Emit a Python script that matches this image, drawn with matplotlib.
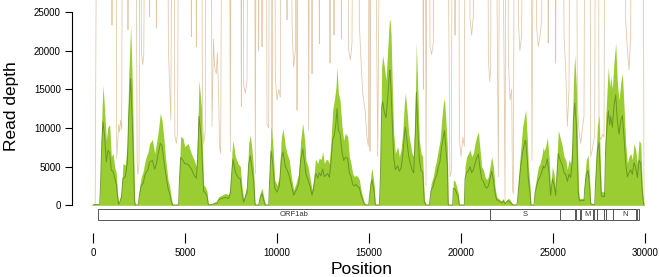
import matplotlib
matplotlib.use("Agg")
import matplotlib.pyplot as plt
from matplotlib.patches import Rectangle

plt.rcParams['font.family'] = ['Liberation Sans', 'DejaVu Sans']

# depth profile of the pooled samples (upper envelope + mean)
pos = [0, 60, 360, 400, 453, 500, 543, 634, 725, 815, 906, 996, 1087, 1178, 1268, 1340, 1395, 1540,
       1631, 1757, 1866, 1939, 2047, 2138, 2210, 2265, 2300, 2460, 2500, 2537, 2627, 2718, 2845, 2990,
       3080, 3225, 3352, 3443, 3533, 3660, 3751, 3860, 3932, 4077, 4167, 4258, 4330, 4650, 4700, 4765,
       4892, 4983, 5164, 5345, 5490, 5617, 5700, 5762, 5889, 5950, 6015, 6105, 6196, 6260, 6286, 6468,
       6650, 6739, 6830, 7011, 7192, 7374, 7464, 7555, 7609, 7736, 7881, 8008, 8098, 8189, 8280, 8370,
       8461, 8551, 8642, 8733, 8800, 8823, 9004, 9095, 9186, 9276, 9367, 9548, 9602, 9675, 9765, 9874,
       10001, 10128, 10237, 10327, 10454, 10545, 10671, 10780, 10907, 11034, 11179, 11288, 11396, 11505,
       11577, 11686, 11813, 11904, 11994, 12085, 12120, 12211, 12301, 12392, 12482, 12573, 12664, 12754,
       12845, 12935, 13026, 13117, 13207, 13262, 13334, 13425, 13533, 13624, 13715, 13841, 13932, 14023,
       14113, 14204, 14294, 14385, 14476, 14566, 14657, 14747, 14838, 14983, 15050, 15110, 15164, 15291,
       15340, 15382, 15563, 15617, 15690, 15744, 15835, 15925, 16016, 16106, 16143, 16197, 16288, 16342,
       16432, 16559, 16650, 16741, 16831, 16922, 16976, 17067, 17157, 17248, 17339, 17429, 17520, 17574,
       17647, 17737, 17828, 17918, 18009, 18100, 18281, 18371, 18497, 18588, 18678, 18769, 18860, 18950,
       19041, 19100, 19186, 19258, 19300, 19313, 19548, 19584, 19675, 19766, 19856, 19911, 20182, 20219,
       20309, 20400, 20490, 20581, 20672, 20762, 20853, 20943, 21034, 21125, 21215, 21306, 21396, 21487,
       21578, 21668, 21759, 21849, 21940, 22031, 22121, 22212, 22302, 22393, 22484, 22574, 22665, 22755,
       22846, 23027, 23063, 23172, 23245, 23353, 23480, 23516, 23607, 23661, 23752, 23800, 23969, 24024,
       24114, 24205, 24296, 24386, 24477, 24512, 24603, 24693, 24784, 24874, 24965, 25056, 25146, 25237,
       25291, 25382, 25509, 25599, 25690, 25780, 25871, 25962, 26052, 26107, 26179, 26270, 26324, 26378,
       26433, 26686, 26723, 26813, 26904, 26976, 27049, 27266, 27321, 27411, 27502, 27556, 27629, 27800,
       27864, 27955, 28009, 28082, 28136, 28227, 28317, 28408, 28498, 28589, 28680, 28770, 28861, 28951,
       29042, 29133, 29223, 29314, 29404, 29495, 29586, 29676, 29767, 29857, 29912, 29948]

depth_max = [0, 150, 150, 3000, 9300, 13000, 15500, 12300, 8400, 10200, 10400, 6300, 6700, 5000, 4100, 1500, 200, 1550,
             5400, 5200, 8000, 16600, 23300, 15800, 7200, 700, 100, 100, 1500, 2400, 3700, 4300, 5900, 6900,
             8000, 8500, 6700, 8000, 9300, 11900, 11000, 8500, 6300, 3300, 2400, 900, 100, 100, 5000, 8900,
             8700, 7600, 8000, 6700, 5900, 5000, 10000, 16200, 12800, 7500, 2600, 2400, 1800, 300, 100, 200,
             400, 500, 1100, 1300, 1550, 1340, 2400, 7000, 8400, 6300, 5400, 5000, 2400, 700, 1700, 2400,
             8000, 9100, 7100, 4500, 500, 100, 100, 1700, 2200, 1100, 100, 100, 5000, 10200, 8400, 3300,
             2600, 3700, 8800, 9900, 7600, 6700, 5800, 3700, 2000, 2800, 4100, 8400, 10600, 8400,
             5800, 5000, 3300, 2000, 3300, 5800, 5900, 5400, 6100, 5900, 6900, 5400, 5900, 5900,
             5400, 8400, 12300, 13600, 15300, 17900, 14500, 13600, 10200, 8400, 9300, 8900, 6300, 5400,
             4100, 3700, 3900, 3700, 3300, 2000, 1100, 300, 100, 100, 2500, 4100, 4800, 2400,
             200, 100, 100, 5000, 17900, 19400, 17900, 16200, 20100, 23900, 24000, 22200, 13600, 9300,
             6700, 7600, 6300, 7200, 9300, 13200, 14500, 12300, 9300, 8000, 6700, 6300, 13600, 21000,
             15300, 8400, 6700, 6300, 700, 100, 100, 2800, 3700, 5000, 5900, 7200, 8400, 11000,
             13200, 13800, 10600, 7600, 1000, 100, 100, 3300, 3100, 2400, 1500, 100, 100, 5000,
             6300, 6700, 7200, 6300, 6700, 8000, 8900, 9500, 7200, 5000, 4600, 3700, 3300, 3700,
             5000, 6300, 5000, 2400, 1100, 900, 700, 500, 900, 300, 700, 900, 700, 300,
             100, 100, 700, 5000, 7200, 10200, 11900, 12300, 8500, 5000, 2400, 100, 100, 2400,
             3700, 5000, 5400, 6300, 7600, 7000, 7600, 8800, 6300, 2000, 5000, 4100, 2000, 7200,
             9700, 8800, 7600, 6300, 5900, 4600, 5900, 5400, 8400, 15800, 19400, 15300, 9300, 2400,
             900, 900, 3300, 5900, 6500, 4100, 300, 100, 5000, 10200, 11700, 7200, 1800, 1700,
             11200, 15600, 17900, 15300, 16600, 15100, 18600, 21000, 15800, 13600, 15800, 17100, 12800, 8000,
             5400, 6300, 6700, 5900, 8000, 7200, 5400, 8400, 8000, 2400, 700, 0]

depth_mean = [0, 100, 100, 2000, 6200, 8900, 10800, 8800, 5600, 7100, 6800, 4500, 4400, 3600, 2700, 1000, 100, 1000,
              3500, 3700, 5500, 11400, 16400, 10600, 4700, 400, 50, 50, 900, 1500, 2600, 2800, 4100, 4600,
              5600, 5800, 4700, 5300, 6500, 8000, 7700, 5700, 4400, 2200, 1500, 500, 50, 50, 3300, 6200,
              5800, 5400, 5300, 4700, 3900, 3500, 6700, 11500, 8600, 5100, 1800, 1600, 1200, 200, 50, 100,
              300, 300, 700, 900, 1000, 900, 1600, 4600, 5900, 4300, 3600, 3400, 1600, 400, 1100, 1600,
              5300, 6400, 4700, 3100, 300, 50, 50, 1100, 1500, 700, 50, 50, 3300, 7000, 5500, 2300,
              1700, 2500, 6000, 6900, 5000, 4600, 3800, 2600, 1300, 1900, 2700, 5800, 7300, 5500,
              4000, 3300, 2300, 1300, 2200, 3900, 4100, 3500, 4200, 3800, 4700, 3700, 3900, 4100,
              3600, 5600, 8500, 9100, 10700, 12500, 9700, 9300, 6900, 5800, 6200, 6100, 4200, 3700,
              2700, 2500, 2700, 2400, 2300, 1300, 700, 200, 50, 50, 1600, 2800, 3300, 1600,
              100, 50, 50, 3400, 12600, 13400, 12000, 11300, 13800, 16900, 17500, 15000, 9300, 6200,
              4600, 5100, 4400, 4800, 6300, 9000, 10100, 8200, 6400, 5400, 4600, 4200, 9400, 14600,
              10200, 5900, 4500, 4300, 400, 50, 50, 1900, 2500, 3400, 3900, 5000, 5700, 7600,
              8900, 9700, 7100, 5200, 600, 50, 50, 2200, 2100, 1600, 1000, 50, 50, 3400,
              4300, 4400, 5000, 4200, 4600, 5400, 6100, 6600, 4800, 3400, 3100, 2500, 2200, 2500,
              3400, 4400, 3300, 1600, 700, 600, 500, 300, 600, 200, 500, 600, 400, 200,
              50, 50, 400, 3300, 5000, 6900, 8300, 8400, 5800, 3400, 1600, 50, 50, 1600,
              2500, 3300, 3700, 4300, 5100, 4800, 5100, 6000, 4300, 1300, 3400, 2700, 1300, 4900,
              6700, 5900, 5200, 4200, 4000, 3100, 4000, 3600, 5700, 11000, 13200, 10600, 6300, 1600,
              600, 600, 2200, 4000, 4500, 2800, 200, 50, 3300, 7000, 8100, 4900, 1200, 1100,
              7600, 10800, 12200, 10400, 11500, 10100, 12900, 14300, 10900, 9200, 10900, 11600, 8800, 5400,
              3700, 4200, 4600, 4000, 5500, 4900, 3600, 5800, 5400, 1600, 400, 0]

# second (high-depth) sample, mostly above the plotted range
tan_pos = [0, 120, 200, 980, 1033, 1090, 1250, 1290, 1400, 1450, 1500, 1560, 1600, 1860, 1902, 1950,
           2330, 2400, 2440, 2500, 2560, 2600, 2627, 2700, 2760, 2820, 3040, 3080, 3120, 3400, 3443, 3490,
           4050, 4100, 4180, 4230, 4300, 4400, 4450, 4530, 4600, 4650, 5300, 5345, 5400, 5580, 5617, 5660,
           5900, 5950, 6015, 6100, 6150, 6420, 6468, 6550, 6610, 6700, 6760, 6830, 6880, 6940, 7000,
           7420, 7464, 7510, 8020, 8062, 8110, 8160, 8189, 8280, 8370, 8420, 8780, 8823, 8870, 8960, 9004,
           9050, 9140, 9186, 9230, 9420, 9457, 9548, 9600, 9690, 9729, 9770, 9880, 9910, 10000, 10100,
           10180, 10230, 10500, 10545, 10590, 10780, 10816, 10900, 10998, 11040, 11060, 11088, 11130,
           11680, 11722, 11770, 11860, 11904, 11950, 12260, 12301, 12340, 12840, 12881, 12920, 13060,
           13100, 13140, 13460, 13500, 13540, 13860, 13895, 13990, 14077, 14120, 14440, 14476, 14560,
           14657, 14800, 14880, 14965, 15010, 15030, 15055, 15100, 15340, 15472, 15600, 17900, 17955,
           18000, 18060, 18100, 18160, 18290, 18316, 18400, 18497, 18540, 19270, 19400, 19480, 19520,
           19640, 19675, 19720, 19880, 19911, 20000, 20100, 20182, 20220, 20460, 20490, 20580, 20672,
           20720, 21460, 21487, 21560, 21614, 21660, 21900, 22031, 22110, 22260, 22393, 22440, 22540,
           22574, 22665, 22755, 22800, 22846, 22900, 23090, 23118, 23200, 23300, 23340, 23800, 23860,
           23940, 24080, 24114, 24200, 24300, 24386, 24430, 24700, 24740, 24780, 25100, 25146, 25190,
           25560, 25599, 25700, 25780, 25871, 25920, 26280, 26324, 26420, 26505, 26600, 26686, 26730,
           27010, 27049, 27120, 27266, 27310, 27470, 27502, 27600, 27700, 27774, 27820, 28920, 28951,
           29050, 29133, 29223, 29260, 29900, 29948]

tan_val = [0, 0, 45000, 45000, 23300, 45000, 45000, 6000, 10500, 9500, 11000, 9800, 45000, 45000, 22700, 45000,
           45000, 5500, 4000, 5200, 45000, 45000, 20000, 18200, 19500, 45000, 45000, 24400, 45000, 45000, 22900, 45000,
           45000, 20000, 14500, 11000, 45000, 45000, 9000, 8000, 9500, 45000, 45000, 21800, 45000, 45000, 20500, 45000,
           45000, 11500, 8000, 9500, 45000, 45000, 10200, 21500, 17900, 17000, 19700, 14000, 7600, 6700, 45000,
           45000, 7000, 45000, 45000, 12800, 45000, 45000, 15500, 14500, 16000, 45000, 45000, 4100, 45000, 45000, 20000,
           45000, 45000, 20500, 45000, 45000, 10500, 10000, 45000, 45000, 9000, 45000, 45000, 16500, 13600, 15000,
           14000, 45000, 45000, 24000, 45000, 45000, 23500, 17900, 20000, 45000, 45000, 12300, 45000,
           45000, 9700, 45000, 45000, 17000, 45000, 45000, 20900, 45000, 45000, 18400, 45000, 45000,
           22000, 45000, 45000, 21500, 45000, 45000, 20000, 18800, 21000, 45000, 45000, 23500, 19000,
           14500, 12000, 9000, 7600, 45000, 45000, 7000, 45000, 45000, 6300, 45000, 45000, 15000,
           45000, 45000, 2500, 45000, 45000, 20500, 19500, 21000, 45000, 45000, 3700, 4500, 45000,
           45000, 22000, 45000, 45000, 8500, 6300, 8800, 7600, 45000, 45000, 24000, 22000, 24500,
           45000, 45000, 19000, 16000, 18000, 45000, 45000, 3700, 45000, 45000, 700, 45000, 45000,
           19000, 13600, 15000, 2000, 1500, 45000, 45000, 24000, 20000, 22000, 45000, 45000, 5800,
           45000, 45000, 23000, 20500, 22000, 24000, 45000, 45000, 21000, 45000, 45000, 18400, 45000,
           45000, 22000, 17000, 10200, 15000, 45000, 45000, 13000, 9500, 8000, 10000, 11500, 45000,
           45000, 6300, 7000, 9000, 45000, 45000, 9000, 8500, 9200, 8800, 45000, 45000, 24000,
           20000, 17500, 22000, 45000, 45000, 0]

# genome annotation
gene_names = ["ORF1ab", "S", "ORF3a", "E", "M", "ORF6", "ORF7a", "ORF7b", "ORF8", "N", "ORF10"]
gene_start = [266, 21563, 25393, 26245, 26523, 27202, 27394, 27756, 27894, 28274, 29558]
gene_end = [21555, 25384, 26220, 26472, 27191, 27387, 27759, 27887, 28259, 29533, 29674]
gene_labels = ["ORF1ab", "S", "M", "N"]

x_ticks = [0, 5000, 10000, 15000, 20000, 25000, 30000]
y_ticks = [0, 5000, 10000, 15000, 20000, 25000]

fig = plt.figure(figsize=(6.6, 2.77), dpi=100)
ax = fig.add_axes([72 / 660, 1 - 222 / 277, 588 / 660, 222 / 277])
ax.set_xlim(-1141, 30816)
ax.set_ylim(-2160, 26545)

ax.plot(tan_pos, tan_val, color="#e2c6a6", lw=0.55, zorder=1)
ax.fill_between(pos, 0, depth_max, color="#9acd32", lw=0, zorder=2)
ax.plot(pos, depth_mean, color="#5d8a1f", lw=0.7, alpha=0.8, zorder=3)

for name, s, e in zip(gene_names, gene_start, gene_end):
    ax.add_patch(Rectangle((s, -1900), e - s, 1420, facecolor="white",
                           edgecolor="#555555", lw=0.7, zorder=4))
    if name in gene_labels:
        ax.text((s + e) / 2, -1190, name, ha="center", va="center",
                fontsize=5.5, color="#333333", zorder=5)

for side in ["top", "right", "bottom"]:
    ax.spines[side].set_visible(False)
ax.spines["left"].set_bounds(0, 25000)
ax.spines["left"].set_linewidth(0.8)
ax.set_yticks(y_ticks)
ax.set_yticklabels([str(v) for v in y_ticks])
ax.tick_params(axis="y", length=5, width=0.8, labelsize=7, pad=3)
ax.set_xticks([])

# detached x axis (ticks only)
ax2 = fig.add_axes([72 / 660, 1 - 233 / 277, 588 / 660, 0.001])
ax2.set_xlim(-1141, 30816)
ax2.set_yticks([])
for side in ["top", "right", "left", "bottom"]:
    ax2.spines[side].set_visible(False)
ax2.patch.set_visible(False)
ax2.set_xticks(x_ticks)
ax2.set_xticklabels([str(v) for v in x_ticks])
ax2.tick_params(axis="x", length=7.5, width=0.8, labelsize=7, pad=3)

fig.text(12 / 660, 1 - 106 / 277, "Read depth", rotation=90, ha="center", va="center", fontsize=12.5)
fig.text(362 / 660, 1 - 270 / 277, "Position", ha="center", va="center", fontsize=12.5)

plt.savefig("out.png", dpi=100)
